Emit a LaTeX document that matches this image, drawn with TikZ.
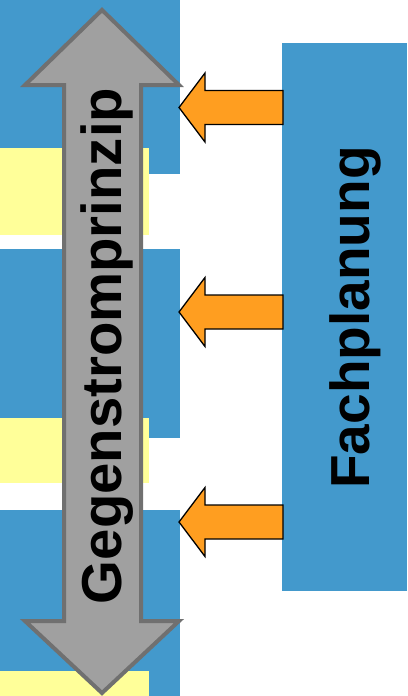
\documentclass[tikz,border=0pt]{standalone}
\usepackage{fontspec}
\setmainfont{Liberation Sans}
\definecolor{pblue}{RGB}{67,153,204}
\definecolor{pyellow}{RGB}{255,255,153}
\definecolor{pgrayfill}{RGB}{160,160,160}
\definecolor{pgrayline}{RGB}{112,112,112}
\definecolor{porange}{RGB}{255,158,32}
\tikzset{
  bluebox/.style={fill=pblue, draw=none},
  yellowbox/.style={fill=pyellow, draw=none},
  bigtext/.style={font=\bfseries, text=black, rotate=90, inner sep=0pt, anchor=base},
  orarrow/.style={fill=porange, draw=black, line width=1.3pt, line join=miter},
}
\begin{document}
\begin{tikzpicture}[x=1pt,y=-1pt]
\useasboundingbox (0,0) rectangle (407,696);
% left blue/yellow columns
\fill[pblue] (0,0) rectangle (180,174);
\fill[pyellow] (0,148) rectangle (149,235);
\fill[pblue] (0,249) rectangle (180,438);
\fill[pyellow] (0,418) rectangle (149,483);
\fill[pblue] (0,510) rectangle (180,696);
\fill[pyellow] (0,671) rectangle (149,696);
% gray double arrow
\draw[fill=pgrayfill, draw=pgrayline, line width=4pt, line join=miter]
  (102,10) -- (179,85) -- (141,85) -- (141,621) -- (179,621) -- (102,693)
  -- (25,621) -- (64,621) -- (64,85) -- (25,85) -- cycle;
\node[bigtext, font=\fontsize{56.3}{60}\selectfont\bfseries] (gp) at (121.5,346) {Gegenstromprinzip};
% Fachplanung box
\node[bluebox, minimum width=125pt, minimum height=548pt, anchor=north west, inner sep=0pt] (fp) at (282,43) {};
\node[bigtext, font=\fontsize{55}{60}\selectfont\bfseries] (fpt) at (369.5,317.5) {Fachplanung};
% orange arrows
\foreach \yc/\nm in {107.5/a1, 312/a2, 522/a3}{
  \coordinate (\nm) at (180,\yc);
  \draw[orarrow] (179,\yc) -- (205,\yc-34.5) -- (205,\yc-17) -- (283,\yc-17)
     -- (283,\yc+17) -- (205,\yc+17) -- (205,\yc+34.5) -- cycle;
}
\end{tikzpicture}
\end{document}
